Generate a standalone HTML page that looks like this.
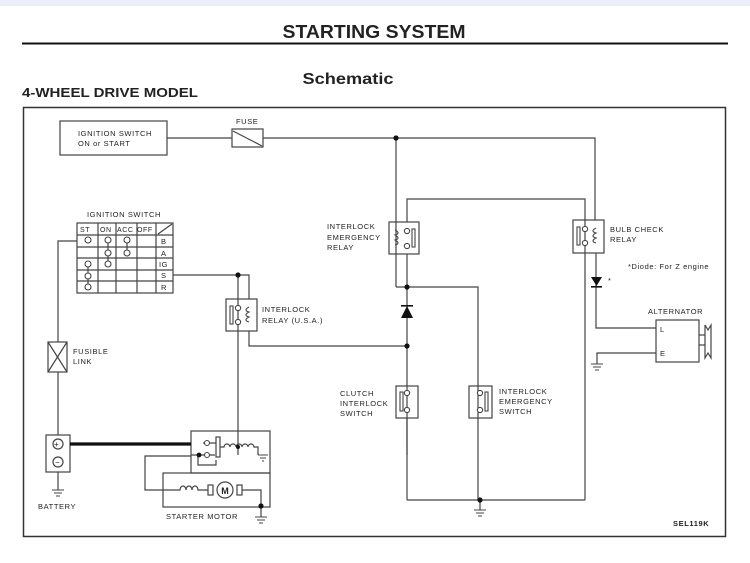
<!DOCTYPE html>
<html><head><meta charset="utf-8"><style>
html,body{margin:0;padding:0;background:#fff}
svg{display:block}
text{font-family:"Liberation Sans",sans-serif;fill:#222}
.s{font-size:7.5px;letter-spacing:0.6px}
</style></head><body>
<svg width="750" height="563" viewBox="0 0 750 563" xmlns="http://www.w3.org/2000/svg">
<rect x="0" y="0" width="750" height="6" fill="#eeeefa"/>
<text x="374" y="38" text-anchor="middle" font-size="18" font-weight="bold" textLength="183" lengthAdjust="spacingAndGlyphs">STARTING SYSTEM</text>
<line x1="22" y1="43.5" x2="728" y2="43.5" stroke="#111" stroke-width="2"/>
<text x="348" y="84" text-anchor="middle" font-size="16" font-weight="bold" textLength="91" lengthAdjust="spacingAndGlyphs">Schematic</text>
<text x="22" y="97" font-size="13" font-weight="bold" textLength="176" lengthAdjust="spacingAndGlyphs">4-WHEEL DRIVE MODEL</text>
<rect x="23.5" y="107.5" width="702" height="429" fill="none" stroke="#333" stroke-width="1.5"/>
<g fill="none" stroke="#444" stroke-width="1.2">
<rect x="60" y="121" width="107" height="34"/>
<line x1="167" y1="138" x2="232" y2="138"/>
<rect x="232" y="129" width="31" height="18"/>
<line x1="233" y1="131" x2="262" y2="146"/>
<polyline points="263,138 595,138 595,220"/>
<line x1="396" y1="138" x2="396" y2="287"/>
<polyline points="407,222 407,199 585,199 585,500"/>
<rect x="389" y="222" width="30" height="32"/>
<line x1="407" y1="254" x2="407" y2="455"/>
<polyline points="396,287 478,287 478,500"/>
<rect x="573" y="220" width="31" height="33"/>
<polyline points="596,253 596,328 656,328"/>
<polyline points="656,353 597,353 597,364"/>
<rect x="656" y="320" width="43" height="42"/>
<line x1="699" y1="335" x2="705" y2="335"/><line x1="699" y1="345" x2="705" y2="345"/>
<polyline points="705,325 705,358 708,353 711,358 711,325 708,330 705,325"/>
<rect x="77" y="223" width="96" height="70"/>
<line x1="77" y1="235" x2="173" y2="235"/>
<line x1="77" y1="247" x2="173" y2="247"/>
<line x1="77" y1="258" x2="173" y2="258"/>
<line x1="77" y1="270" x2="173" y2="270"/>
<line x1="77" y1="281" x2="173" y2="281"/>
<line x1="98" y1="223" x2="98" y2="293"/>
<line x1="116" y1="223" x2="116" y2="293"/>
<line x1="137" y1="223" x2="137" y2="293"/>
<line x1="156" y1="223" x2="156" y2="293"/>
<line x1="158" y1="234" x2="172" y2="224"/>
<line x1="88" y1="264" x2="88" y2="287"/>
<line x1="108" y1="240" x2="108" y2="264"/>
<line x1="127" y1="240" x2="127" y2="253"/>
<polyline points="77,241 58,241 58,342"/>
<rect x="48" y="342" width="19" height="30"/>
<line x1="48" y1="342" x2="67" y2="372"/><line x1="67" y1="342" x2="48" y2="372"/>
<line x1="58" y1="372" x2="58" y2="435"/>
<rect x="46" y="435" width="24" height="37"/>
<circle cx="58" cy="444" r="5"/><circle cx="58" cy="462" r="5"/>
<line x1="58" y1="472" x2="58" y2="490"/>
<polyline points="173,275 249,275 249,299"/>
<line x1="238" y1="275" x2="238" y2="455"/>
<rect x="226" y="299" width="31" height="32"/>
<polyline points="249,331 249,346 407,346"/>
<rect x="191" y="431" width="79" height="42"/>
<rect x="163" y="473" width="107" height="34"/>
<polyline points="191,456 145,456 145,490 175,490"/>
<line x1="203" y1="443" x2="216" y2="443"/>
<polyline points="191,455 215,455"/>
<polyline points="198,455 198,465 216,465 216,460"/>
<rect x="216" y="437" width="4" height="20"/>
<path d="M220,447 h4 a3,3 0 0 1 6,0 a3,3 0 0 1 6,0 a3,3 0 0 1 6,0 a3,3 0 0 1 6,0 a3,3 0 0 1 6,0 h4 v8"/>
<path d="M175,490 h5 a3,4 0 0 1 6,0 a3,4 0 0 1 6,0 a3,4 0 0 1 6,0 h10"/>
<rect x="208" y="485" width="5" height="10"/>
<circle cx="225" cy="490" r="8"/>
<rect x="237" y="485" width="5" height="10"/>
<polyline points="242,490 261,490 261,517"/>
<line x1="407" y1="418" x2="407" y2="500"/>
<line x1="407" y1="500" x2="585" y2="500"/>
<line x1="480" y1="500" x2="480" y2="510"/>
<rect x="396" y="386" width="22" height="32"/>
<rect x="469" y="386" width="23" height="32"/>
</g>
<line x1="70" y1="444" x2="191" y2="444" stroke="#111" stroke-width="3.2"/>
<g fill="#fff" stroke="#444" stroke-width="1.1">
<circle cx="407" cy="231" r="2.6"/><circle cx="407" cy="246" r="2.6"/>
<rect x="412" y="229" width="3" height="18"/>
<path d="M395,230 c4,2 4,4 0,5 c4,2 4,4 0,5 c4,2 4,4 0,5" fill="none"/>
<circle cx="585" cy="229" r="2.6"/><circle cx="585" cy="243" r="2.6"/>
<rect x="577" y="227" width="3" height="18"/>
<path d="M596,228 c-4,2 -4,4 0,5 c-4,2 -4,4 0,5 c-4,2 -4,4 0,5" fill="none"/>
<circle cx="238" cy="308" r="2.6"/><circle cx="238" cy="322" r="2.6"/>
<rect x="230" y="306" width="3" height="18"/>
<path d="M249,307 c-4,2 -4,4 0,5 c-4,2 -4,4 0,5 c-4,2 -4,4 0,5" fill="none"/>
<circle cx="407" cy="393" r="2.6"/><circle cx="407" cy="410" r="2.6"/>
<rect x="400" y="392" width="3" height="19"/>
<circle cx="480" cy="393" r="2.6"/><circle cx="480" cy="410" r="2.6"/>
<rect x="485" y="392" width="3" height="19"/>
<circle cx="88" cy="240" r="3"/><circle cx="88" cy="264" r="3"/><circle cx="88" cy="276" r="3"/><circle cx="88" cy="287" r="3"/>
<circle cx="108" cy="240" r="3"/><circle cx="108" cy="253" r="3"/><circle cx="108" cy="264" r="3"/>
<circle cx="127" cy="240" r="3"/><circle cx="127" cy="253" r="3"/>
<circle cx="207" cy="443" r="2.5"/><circle cx="207" cy="455" r="2.5"/>
</g>
<g fill="#111">
<circle cx="396" cy="138" r="2.6"/><circle cx="407" cy="287" r="2.6"/><circle cx="407" cy="346" r="2.6"/>
<circle cx="238" cy="275" r="2.6"/><circle cx="480" cy="500" r="2.6"/><circle cx="261" cy="506" r="2.6"/>
<circle cx="199" cy="455" r="2.4"/><circle cx="238" cy="447" r="2"/>
<polygon points="401,318 413,318 407,306"/><rect x="401" y="305" width="12" height="1.6"/>
<polygon points="591,277 602,277 596.5,286"/><rect x="591" y="286" width="11" height="1.6"/>
<text x="225" y="494" text-anchor="middle" font-size="9" font-weight="bold">M</text>
<text x="54" y="447" font-size="8">+</text><text x="55" y="465" font-size="8">−</text>
</g>
<g stroke="#444" stroke-width="1">
<line x1="52" y1="490" x2="64" y2="490"/><line x1="54" y1="493" x2="62" y2="493"/><line x1="56" y1="496" x2="60" y2="496"/>
<line x1="591" y1="364" x2="603" y2="364"/><line x1="593" y1="367" x2="601" y2="367"/><line x1="595" y1="370" x2="599" y2="370"/>
<line x1="474" y1="510" x2="486" y2="510"/><line x1="476" y1="513" x2="484" y2="513"/><line x1="478" y1="516" x2="482" y2="516"/>
<line x1="255" y1="517" x2="267" y2="517"/><line x1="257" y1="520" x2="265" y2="520"/><line x1="259" y1="523" x2="263" y2="523"/>
<line x1="258" y1="455" x2="268" y2="455"/><line x1="260" y1="458" x2="266" y2="458"/><line x1="262" y1="461" x2="264" y2="461"/>
</g>
<g class="s">
<text x="78" y="136">IGNITION SWITCH</text>
<text x="78" y="146">ON or START</text>
<text x="236" y="124">FUSE</text>
<text x="87" y="217">IGNITION SWITCH</text>
<text x="80" y="232" font-size="7">ST</text><text x="100" y="232" font-size="7">ON</text><text x="117" y="232" font-size="7">ACC</text><text x="137" y="232" font-size="7">OFF</text>
<text x="161" y="244">B</text><text x="161" y="256">A</text><text x="159" y="267">IG</text><text x="161" y="278">S</text><text x="161" y="290">R</text>
<text x="73" y="354">FUSIBLE</text><text x="73" y="364">LINK</text>
<text x="38" y="509">BATTERY</text>
<text x="166" y="519">STARTER MOTOR</text>
<text x="262" y="312">INTERLOCK</text><text x="262" y="323">RELAY (U.S.A.)</text>
<text x="327" y="229">INTERLOCK</text><text x="327" y="240">EMERGENCY</text><text x="327" y="250">RELAY</text>
<text x="610" y="232">BULB CHECK</text><text x="610" y="242">RELAY</text>
<text x="628" y="269">*Diode:  For Z engine</text>
<text x="608" y="283">*</text>
<text x="648" y="314">ALTERNATOR</text>
<text x="660" y="332">L</text><text x="660" y="356">E</text>
<text x="340" y="396">CLUTCH</text><text x="340" y="406">INTERLOCK</text><text x="340" y="416">SWITCH</text>
<text x="499" y="394">INTERLOCK</text><text x="499" y="404">EMERGENCY</text><text x="499" y="414">SWITCH</text>
<text x="673" y="526" font-weight="bold">SEL119K</text>
</g>
</svg>
</body></html>
